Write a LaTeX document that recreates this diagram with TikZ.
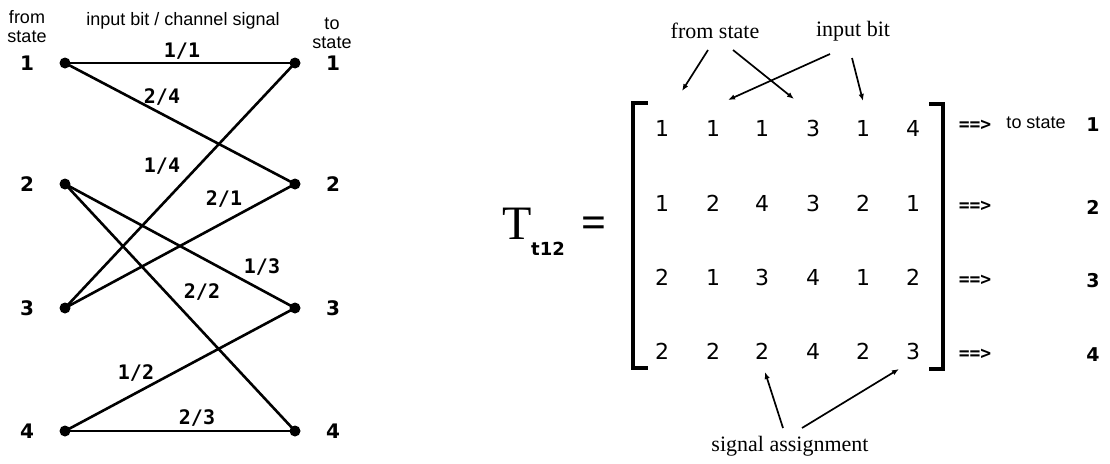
\documentclass[tikz,border=0pt]{standalone}
\usepackage{fontspec}
\setmainfont{Liberation Serif}
\newfontfamily\hdrfont{Liberation Sans}
\newfontfamily\djfont{DejaVu Sans}
\newfontfamily\djmono{DejaVu Sans Mono}
\usetikzlibrary{arrows.meta}
\begin{document}
\begin{tikzpicture}[x=1pt,y=-1pt,
  statedot/.style={circle,fill=black,inner sep=0pt,minimum size=11pt},
  trl/.style={line width=2.6pt},
  elab/.style={font=\djmono\bfseries\fontsize{20}{20}\selectfont,inner sep=0pt},
  snum/.style={font=\djfont\bfseries\fontsize{20}{20}\selectfont,inner sep=0pt},
  hdrtxt/.style={font=\hdrfont\fontsize{18}{19}\selectfont,align=center,inner sep=0pt},
  mnum/.style={font=\djfont\fontsize{22}{22}\selectfont,inner sep=0pt},
  anntxt/.style={font=\fontsize{22}{22}\selectfont,inner sep=0pt},
  annarrow/.style={line width=1.7pt,-{Latex[length=7pt,width=5.5pt]}},
  brk/.style={line width=3.2pt,line cap=rect},
  arrtxt/.style={font=\djmono\bfseries\fontsize{18}{18}\selectfont,inner sep=0pt},
  rnum/.style={font=\djfont\bfseries\fontsize{19}{19}\selectfont,inner sep=0pt}
]
\useasboundingbox[fill=white] (0,0) rectangle (1110,463);

% ---------- trellis ----------
\node[hdrtxt] (fromhdr) at (27,27) {from\\state};
\node[hdrtxt] (tohdr) at (332,33) {to\\state};
\node[hdrtxt] (iohdr) at (183,21) {input bit / channel signal};

\foreach \i/\y in {1/63,2/184,3/308,4/431}{
  \node[statedot] (L\i) at (65,\y) {};
  \node[statedot] (R\i) at (295,\y) {};
  \node[snum] (Ln\i) at (27,\y) {\i};
  \node[snum] (Rn\i) at (333,\y) {\i};
}
\draw[trl] (L1.center) -- (R1.center);
\draw[trl] (L1.center) -- (R2.center);
\draw[trl] (L2.center) -- (R3.center);
\draw[trl] (L2.center) -- (R4.center);
\draw[trl] (L3.center) -- (R1.center);
\draw[trl] (L3.center) -- (R2.center);
\draw[trl] (L4.center) -- (R3.center);
\draw[trl] (L4.center) -- (R4.center);

\node[elab] (e11) at (182,51) {1/1};
\node[elab] (e24) at (162,97) {2/4};
\node[elab] (e14) at (162,166) {1/4};
\node[elab] (e21) at (224,199) {2/1};
\node[elab] (e13) at (262,267) {1/3};
\node[elab] (e22) at (202,292) {2/2};
\node[elab] (e12) at (136,373) {1/2};
\node[elab] (e23) at (197,418) {2/3};

% ---------- matrix ----------
\node[font=\fontsize{48}{48}\selectfont,inner sep=0pt] (Tsym) at (517,224) {T};
\node[font=\djfont\bfseries\fontsize{18}{18}\selectfont,inner sep=0pt] (Tsub) at (548,249) {t12};
\node[font=\bfseries\fontsize{44}{44}\selectfont,inner sep=0pt] (eqs) at (594,227) {=};

\foreach \r/\y/\a/\b/\c/\d/\e/\f in {1/128/1/1/1/3/1/4, 2/203/1/2/4/3/2/1, 3/277/2/1/3/4/1/2, 4/351/2/2/2/4/2/3}{
  \node[mnum] (m\r-1) at (662,\y) {\a};
  \node[mnum] (m\r-2) at (713,\y) {\b};
  \node[mnum] (m\r-3) at (762,\y) {\c};
  \node[mnum] (m\r-4) at (813,\y) {\d};
  \node[mnum] (m\r-5) at (863,\y) {\e};
  \node[mnum] (m\r-6) at (913,\y) {\f};
}
\coordinate (lbA) at (646,103);
\coordinate (lbB) at (633,103);
\coordinate (lbC) at (633,368);
\coordinate (lbD) at (646,368);
\coordinate (rbA) at (931,104);
\coordinate (rbB) at (943,104);
\coordinate (rbC) at (943,369);
\coordinate (rbD) at (931,369);
\draw[brk] (lbA) -- (lbB) -- (lbC) -- (lbD);
\draw[brk] (rbA) -- (rbB) -- (rbC) -- (rbD);

\foreach \r/\y in {1/125,2/206,3/280,4/354}{
  \node[arrtxt] (arr\r) at (975,\y) {==>};
}
\node[hdrtxt] (tostate) at (1036,123) {to state};
\node[rnum] (rs1) at (1093,125) {1};
\node[rnum] (rs2) at (1093,207) {2};
\node[rnum] (rs3) at (1093,281) {3};
\node[rnum] (rs4) at (1093,355) {4};

% ---------- annotations ----------
\node[anntxt] (afrom) at (715,31) {from state};
\node[anntxt] (ainput) at (853,31) {input bit};
\node[anntxt] (asig) at (790,446) {signal assignment};

\coordinate (fsT1) at (708,50);  \coordinate (fsH1) at (682,91);
\coordinate (fsT2) at (733,50);  \coordinate (fsH2) at (794,99);
\coordinate (ibT1) at (830,54);  \coordinate (ibH1) at (728,100);
\coordinate (ibT2) at (852,58);  \coordinate (ibH2) at (863,101);
\coordinate (saT1) at (783,428); \coordinate (saH1) at (765,372);
\coordinate (saT2) at (802,428); \coordinate (saH2) at (899,369);
\draw[annarrow] (fsT1) -- (fsH1);
\draw[annarrow] (fsT2) -- (fsH2);
\draw[annarrow] (ibT1) -- (ibH1);
\draw[annarrow] (ibT2) -- (ibH2);
\draw[annarrow] (saT1) -- (saH1);
\draw[annarrow] (saT2) -- (saH2);
\end{tikzpicture}
\end{document}
